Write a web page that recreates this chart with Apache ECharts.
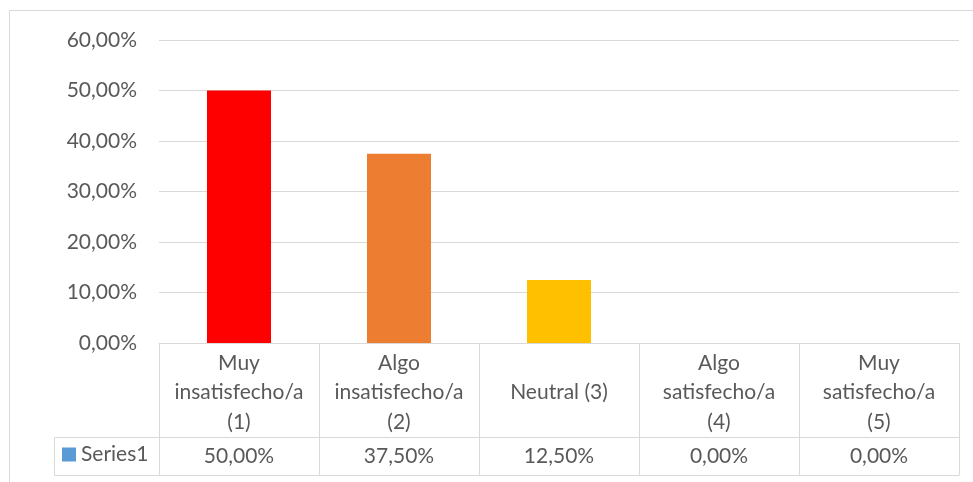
<!DOCTYPE html>
<html>
<head>
<meta charset="utf-8">
<script src="https://cdn.jsdelivr.net/npm/echarts@6/dist/echarts.min.js"></script>
<style>
  html, body { margin: 0; padding: 0; background: #fff; }
  #chart { width: 973px; height: 482px; }
</style>
</head>
<body>
<div id="chart"></div>
<script>
const categories = [
  'Muy\ninsatisfecho/a\n(1)',
  'Algo\ninsatisfecho/a\n(2)',
  'Neutral (3)',
  'Algo\nsatisfecho/a\n(4)',
  'Muy\nsatisfecho/a\n(5)'
];
const values = [0.5, 0.375, 0.125, 0, 0];
const barColors = ['#ff0000', '#ed7d31', '#ffc000', '#5b9bd5', '#5b9bd5'];
const seriesName = 'Series1';

const fmt = v => (v * 100).toFixed(2).replace('.', ',') + '%';
const textColor = '#595959';
const lineColor = '#d9d9d9';
const font = 'Lato';

const chart = echarts.init(document.getElementById('chart'));

const option = {
  animation: false,
  textStyle: { fontFamily: font },
  grid: { left: 159, right: 14, top: 40, bottom: 139, containLabel: false },
  legend: {
    left: 62,
    top: 444,
    padding: 0,
    itemWidth: 14,
    itemHeight: 14,
    itemGap: 0,
    icon: 'rect',
    selectedMode: false,
    textStyle: { color: textColor, fontSize: 21, fontFamily: font },
    data: [{ name: seriesName, itemStyle: { color: '#5b9bd5' } }]
  },
  xAxis: [
    {
      type: 'category',
      data: categories,
      position: 'bottom',
      axisLine: { show: true, lineStyle: { color: lineColor, width: 1 } },
      axisTick: { show: true, interval: 0, length: 132, lineStyle: { color: lineColor } },
      axisLabel: {
        interval: 0,
        color: textColor,
        fontSize: 21,
        lineHeight: 29.5,
        margin: 5,
        fontFamily: font,
        // single-line labels sit in the middle row of the header cell
        formatter: v => (v.indexOf('\n') >= 0 ? v : '\n' + v)
      }
    },
    {
      type: 'category',
      data: values.map(fmt),
      position: 'bottom',
      offset: 94,
      axisLine: { show: true, lineStyle: { color: lineColor, width: 1 } },
      axisTick: { show: false },
      axisLabel: { interval: 0, color: textColor, fontSize: 21, margin: 9, fontFamily: font }
    },
    {
      type: 'category',
      data: categories,
      position: 'bottom',
      offset: 132,
      axisLine: { show: true, lineStyle: { color: lineColor, width: 1 } },
      axisTick: { show: false },
      axisLabel: { show: false }
    }
  ],
  yAxis: {
    type: 'value',
    min: 0,
    max: 0.6,
    interval: 0.1,
    axisLine: { show: false },
    axisTick: { show: false },
    axisLabel: {
      color: textColor,
      fontSize: 21,
      margin: 22,
      fontFamily: font,
      formatter: fmt
    },
    splitLine: { lineStyle: { color: lineColor, width: 1 } }
  },
  series: [
    {
      name: seriesName,
      type: 'bar',
      xAxisIndex: 0,
      barWidth: '40%',
      itemStyle: { color: '#5b9bd5' },
      data: values.map((v, i) => ({ value: v, itemStyle: { color: barColors[i] } }))
    }
  ],
  graphic: [
    // outer chart border (top and left visible)
    { type: 'line', shape: { x1: 9.5, y1: 10.5, x2: 973, y2: 10.5 }, style: { stroke: lineColor, lineWidth: 1 } },
    { type: 'line', shape: { x1: 9.5, y1: 10.5, x2: 9.5, y2: 482 }, style: { stroke: lineColor, lineWidth: 1 } },
    // legend key cell of the data table
    { type: 'line', shape: { x1: 54.5, y1: 437.5, x2: 159, y2: 437.5 }, style: { stroke: lineColor, lineWidth: 1 } },
    { type: 'line', shape: { x1: 54.5, y1: 475.5, x2: 159, y2: 475.5 }, style: { stroke: lineColor, lineWidth: 1 } },
    { type: 'line', shape: { x1: 54.5, y1: 437.5, x2: 54.5, y2: 475.5 }, style: { stroke: lineColor, lineWidth: 1 } }
  ]
};

chart.setOption(option);
</script>
</body>
</html>
